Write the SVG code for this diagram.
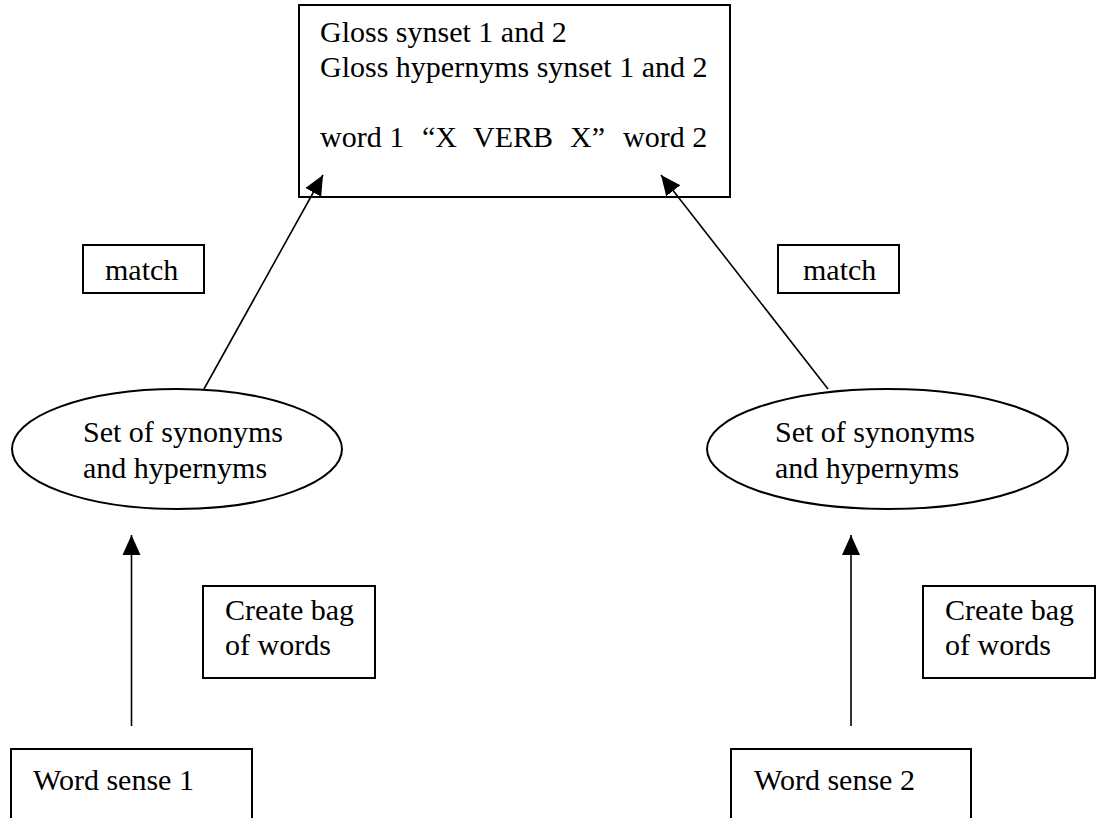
<svg xmlns="http://www.w3.org/2000/svg" width="1108" height="818" viewBox="0 0 1108 818">
<style>
.box{fill:#fff;stroke:#000;stroke-width:2}
.ell{fill:#fff;stroke:#000;stroke-width:2}
.t{font-family:"Liberation Serif","Times New Roman",serif;font-size:30px;fill:#000}
.conn{stroke:#000;stroke-width:1.6;fill:none}
</style>
<defs>
<marker id="ah" markerUnits="userSpaceOnUse" markerWidth="22" markerHeight="22" refX="20" refY="10" orient="auto">
<path d="M0,1 L20,10 L0,19 z" fill="#000"/>
</marker>
</defs>
<rect width="1108" height="818" fill="#fff"/>
<g id="gloss">
<rect class="box" x="299" y="5" width="431" height="192"/>
<text class="t" x="320" y="42">Gloss synset 1 and 2</text>
<text class="t" x="320" y="77">Gloss hypernyms synset 1 and 2</text>
<text class="t" y="147"><tspan x="320">word 1</tspan><tspan x="422">“X</tspan><tspan x="473">VERB</tspan><tspan x="570">X”</tspan><tspan x="623">word 2</tspan></text>
</g>
<g id="match1">
<rect class="box" x="83" y="245" width="121" height="48"/>
<text class="t" x="105" y="280">match</text>
</g>
<g id="match2">
<rect class="box" x="778" y="245" width="121" height="48"/>
<text class="t" x="803" y="280">match</text>
</g>
<g id="set1">
<ellipse class="ell" cx="177" cy="449" rx="165" ry="60"/>
<text class="t" x="83" y="442">Set of synonyms</text>
<text class="t" x="83" y="478">and hypernyms</text>
</g>
<g id="set2">
<ellipse class="ell" cx="887.5" cy="449" rx="180.5" ry="60"/>
<text class="t" x="775" y="442">Set of synonyms</text>
<text class="t" x="775" y="478">and hypernyms</text>
</g>
<g id="bag1">
<rect class="box" x="203" y="586" width="172" height="92"/>
<text class="t" x="225" y="620">Create bag</text>
<text class="t" x="225" y="655">of words</text>
</g>
<g id="bag2">
<rect class="box" x="923" y="586" width="172" height="92"/>
<text class="t" x="945" y="620">Create bag</text>
<text class="t" x="945" y="655">of words</text>
</g>
<g id="sense1">
<rect class="box" x="11" y="749" width="241" height="80"/>
<text class="t" x="33" y="790">Word sense 1</text>
</g>
<g id="sense2">
<rect class="box" x="731" y="749" width="240" height="80"/>
<text class="t" x="754" y="790">Word sense 2</text>
</g>
<g id="connectors">
<line class="conn" x1="204" y1="389" x2="323" y2="175" marker-end="url(#ah)"/>
<line class="conn" x1="828" y1="389" x2="661" y2="175" marker-end="url(#ah)"/>
<line class="conn" x1="131.5" y1="726" x2="131.5" y2="535" marker-end="url(#ah)"/>
<line class="conn" x1="851" y1="726" x2="851" y2="535" marker-end="url(#ah)"/>
</g>
</svg>
